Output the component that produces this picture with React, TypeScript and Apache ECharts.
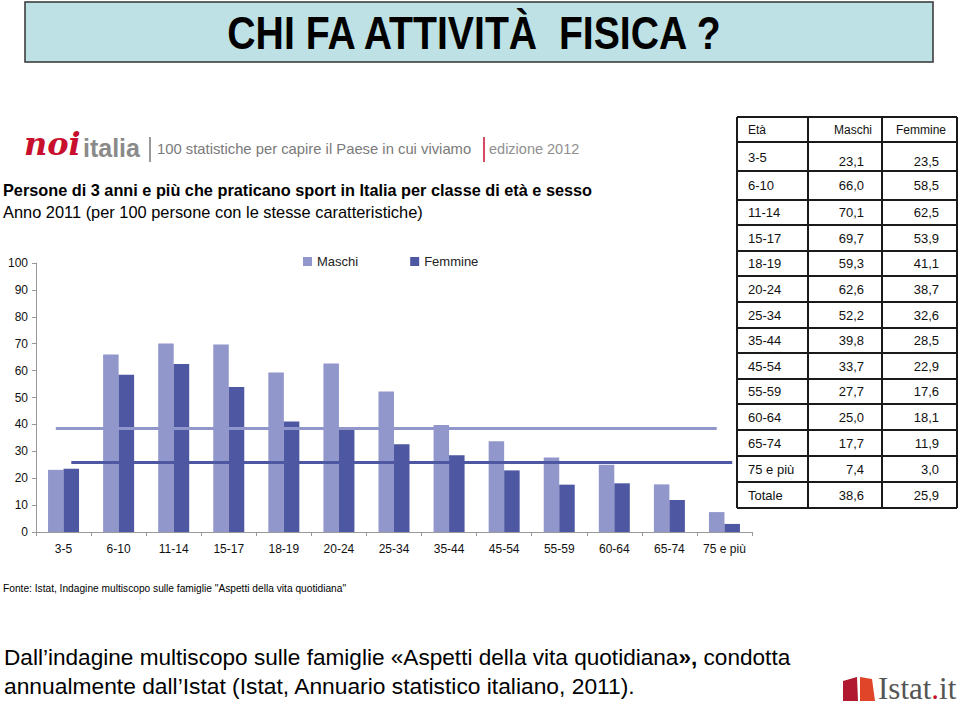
import React, { useEffect, useRef } from "react";
import * as echarts from "echarts";

const categories = ["3-5", "6-10", "11-14", "15-17", "18-19", "20-24", "25-34", "35-44", "45-54", "55-59", "60-64", "65-74", "75 e più"];
const maschi = [23.1, 66.0, 70.1, 69.7, 59.3, 62.6, 52.2, 39.8, 33.7, 27.7, 25.0, 17.7, 7.4];
const femmine = [23.5, 58.5, 62.5, 53.9, 41.1, 38.7, 32.6, 28.5, 22.9, 17.6, 18.1, 11.9, 3.0];
const totaleMaschi = 38.6;
const totaleFemmine = 25.9;
const seriesNames = ["Maschi", "Femmine"];
const tableHeader = ["Età", "Maschi", "Femmine"];
const totaleLabel = "Totale";

const FONT = "'Liberation Sans', Arial, sans-serif";
const SERIF = "'Liberation Serif', 'DejaVu Serif', serif";
const LIGHT = "#9196CB";
const DARK = "#4E57A2";

const fmt = (v: number) => v.toFixed(1).replace(".", ",");

function buildTable(): any[] {
  const els: any[] = [];
  const rowsY = [117, 142, 171, 200, 225, 251, 276, 302, 328, 353, 379, 404, 430, 456, 482, 508];
  const colsX = [737, 808, 882, 957];
  const stroke = { stroke: "#1a1a1a", lineWidth: 2 };
  rowsY.forEach((y) => {
    els.push({ type: "line", shape: { x1: colsX[0], y1: y, x2: colsX[3], y2: y }, style: stroke, z: 10 });
  });
  colsX.forEach((x) => {
    els.push({ type: "line", shape: { x1: x, y1: rowsY[0], x2: x, y2: rowsY[rowsY.length - 1] }, style: stroke, z: 10 });
  });
  const rows: [string, string, string][] = [];
  categories.forEach((c, i) => rows.push([c, fmt(maschi[i]), fmt(femmine[i])]));
  rows.push([totaleLabel, fmt(totaleMaschi), fmt(totaleFemmine)]);
  const hy = (rowsY[0] + rowsY[1]) / 2;
  els.push({ type: "text", x: 748, y: hy, style: { text: tableHeader[0], font: `12px ${FONT}`, fill: "#111", verticalAlign: "middle", align: "left" }, z: 11 });
  els.push({ type: "text", x: 872, y: hy, style: { text: tableHeader[1], font: `12px ${FONT}`, fill: "#111", verticalAlign: "middle", align: "right" }, z: 11 });
  els.push({ type: "text", x: 946, y: hy, style: { text: tableHeader[2], font: `12px ${FONT}`, fill: "#111", verticalAlign: "middle", align: "right" }, z: 11 });
  rows.forEach((r, i) => {
    const cy = (rowsY[i + 1] + rowsY[i + 2]) / 2;
    const lOff = i === 0 ? 1 : 0;
    const vOff = i === 0 ? 5 : 0;
    els.push({ type: "text", x: 748, y: cy + lOff, style: { text: r[0], font: `13px ${FONT}`, fill: "#111", verticalAlign: "middle", align: "left" }, z: 11 });
    els.push({ type: "text", x: 864, y: cy + vOff, style: { text: r[1], font: `13px ${FONT}`, fill: "#111", verticalAlign: "middle", align: "right" }, z: 11 });
    els.push({ type: "text", x: 939, y: cy + vOff, style: { text: r[2], font: `13px ${FONT}`, fill: "#111", verticalAlign: "middle", align: "right" }, z: 11 });
  });
  return els;
}

export default function App() {
  const ref = useRef<HTMLDivElement>(null);
  useEffect(() => {
    if (!ref.current) return;
    const chart = echarts.init(ref.current, null, { renderer: "svg" });
    const graphic: any[] = [
      // title box
      { type: "rect", shape: { x: 25, y: 2, width: 908, height: 60 }, style: { fill: "#BDE1E4", stroke: "#333", lineWidth: 1.5 }, z: 1 },
      { type: "text", x: 474, y: 33, scaleX: 0.852, style: { text: "CHI FA ATTIVITÀ  FISICA ?", font: `bold 46px ${FONT}`, fill: "#000", align: "center", verticalAlign: "middle" }, z: 2 },
      // noi italia logo
      { type: "text", x: 24, y: 160, style: { text: "noi", font: `italic bold 32px 'DejaVu Serif', serif`, fill: "#C8102E", align: "left", verticalAlign: "bottom" }, z: 2 },
      { type: "text", x: 83, y: 160, style: { text: "italia", font: `bold 25px ${FONT}`, fill: "#8A8A8A", align: "left", verticalAlign: "bottom" }, z: 2 },
      { type: "line", shape: { x1: 150, y1: 137, x2: 150, y2: 162 }, style: { stroke: "#777", lineWidth: 1.5 }, z: 2 },
      { type: "text", x: 157, y: 149, style: { text: "100 statistiche per capire il Paese in cui viviamo", font: `14.8px ${FONT}`, fill: "#7A7A7A", align: "left", verticalAlign: "middle" }, z: 2 },
      { type: "line", shape: { x1: 484, y1: 137, x2: 484, y2: 162 }, style: { stroke: "#C8102E", lineWidth: 1.5 }, z: 2 },
      { type: "text", x: 489, y: 149, style: { text: "edizione 2012", font: `14.5px ${FONT}`, fill: "#8F8F8F", align: "left", verticalAlign: "middle" }, z: 2 },
      // subtitles
      { type: "text", x: 3, y: 190, style: { text: "Persone di 3 anni e più che praticano sport in Italia per classe di età e sesso", font: `bold 16.3px ${FONT}`, fill: "#000", align: "left", verticalAlign: "middle" }, z: 2 },
      { type: "text", x: 3, y: 212, style: { text: "Anno 2011 (per 100 persone con le stesse caratteristiche)", font: `16.4px ${FONT}`, fill: "#000", align: "left", verticalAlign: "middle" }, z: 2 },
      // source
      { type: "text", x: 3, y: 588, style: { text: "Fonte: Istat, Indagine multiscopo sulle famiglie \"Aspetti della vita quotidiana\"", font: `10.2px ${FONT}`, fill: "#000", align: "left", verticalAlign: "middle" }, z: 2 },
      // bottom text
      {
        type: "text",
        x: 4,
        y: 657,
        style: {
          text: "{n|Dall’indagine multiscopo sulle famiglie «Aspetti della vita quotidiana}{b|»,}{n| condotta}",
          align: "left",
          verticalAlign: "middle",
          rich: {
            n: { font: `22.6px ${FONT}`, fill: "#000" },
            b: { font: `bold 22.6px ${FONT}`, fill: "#000" },
          },
        },
        z: 2,
      },
      { type: "text", x: 4, y: 686, style: { text: "annualmente dall’Istat (Istat, Annuario statistico italiano, 2011).", font: `22.8px ${FONT}`, fill: "#000", align: "left", verticalAlign: "middle" }, z: 2 },
      // Istat logo
      { type: "polygon", shape: { points: [[843, 681], [857, 677], [858, 701], [843, 701]] }, style: { fill: "#B0192F" }, z: 2 },
      { type: "polygon", shape: { points: [[860, 677], [872, 679], [875, 701], [860, 701]] }, style: { fill: "#E0452A" }, z: 2 },
      {
        type: "text",
        x: 878,
        y: 704,
        style: {
          text: "{a|Istat}{b|.}{a|it}",
          verticalAlign: "bottom",
          align: "left",
          rich: {
            a: { font: `31px ${SERIF}`, fill: "#555" },
            b: { font: `31px ${SERIF}`, fill: "#C8102E" },
          },
        },
        z: 2,
      },
      ...buildTable(),
    ];
    chart.setOption({
      animation: false,
      backgroundColor: "#fff",
      textStyle: { fontFamily: FONT },
      grid: { left: 36, right: 208, top: 263, bottom: 176, containLabel: false },
      legend: {
        left: 303,
        top: 255,
        padding: 0,
        itemWidth: 9,
        itemHeight: 9,
        itemGap: 52,
        icon: "rect",
        textStyle: { fontSize: 13, color: "#222", fontFamily: FONT },
        data: seriesNames,
      },
      xAxis: {
        type: "category",
        data: categories,
        axisLine: { lineStyle: { color: "#999", width: 1 } },
        axisTick: { show: true, length: 4, lineStyle: { color: "#999" }, alignWithLabel: false },
        axisLabel: { interval: 0, fontSize: 12, color: "#111", margin: 11, fontFamily: FONT },
      },
      yAxis: {
        type: "value",
        min: 0,
        max: 100,
        interval: 10,
        splitLine: { show: false },
        axisLine: { show: true, lineStyle: { color: "#999", width: 1 } },
        axisTick: { show: true, length: 4, lineStyle: { color: "#999" } },
        axisLabel: { fontSize: 12, color: "#111", margin: 8, fontFamily: FONT },
      },
      series: [
        {
          name: seriesNames[0],
          type: "bar",
          data: maschi,
          barWidth: 15.5,
          barGap: "0%",
          itemStyle: { color: LIGHT },
          markLine: {
            silent: true,
            symbol: "none",
            label: { show: false },
            lineStyle: { color: LIGHT, width: 3, type: "solid" },
            data: [[{ coord: [0, totaleMaschi] }, { coord: [categories.length - 1, totaleMaschi] }]],
          },
        },
        {
          name: seriesNames[1],
          type: "bar",
          data: femmine,
          barWidth: 15.5,
          barGap: "0%",
          itemStyle: { color: DARK },
          markLine: {
            silent: true,
            symbol: "none",
            label: { show: false },
            lineStyle: { color: DARK, width: 3, type: "solid" },
            data: [[{ coord: [0, totaleFemmine] }, { coord: [categories.length - 1, totaleFemmine] }]],
          },
        },
      ],
      graphic,
    });
    return () => chart.dispose();
  }, []);
  return <div ref={ref} style={{ position: "absolute", left: 0, top: 0, width: 960, height: 708 }} />;
}
